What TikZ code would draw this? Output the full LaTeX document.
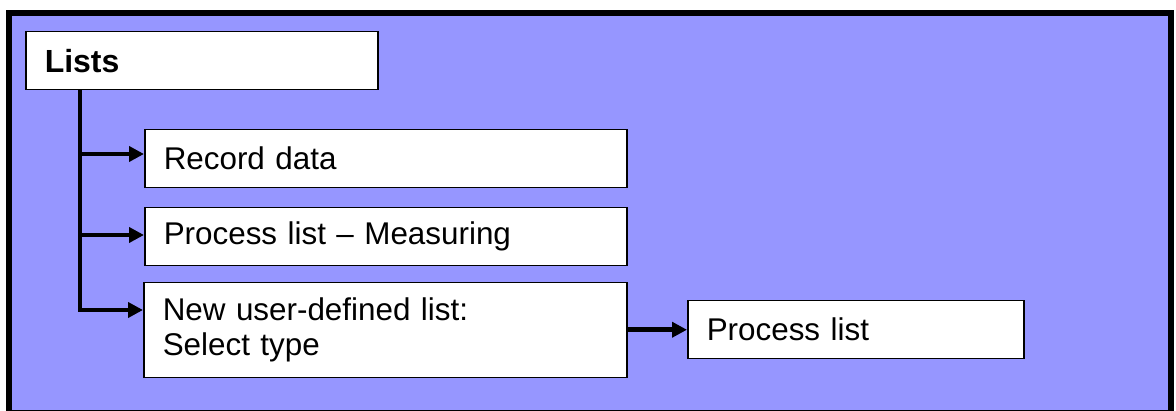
\documentclass[tikz,border=0pt]{standalone}
\usepackage{fontspec}
\setmainfont{Liberation Sans}
\usetikzlibrary{arrows.meta}
\definecolor{bgblue}{RGB}{150,150,255}
\begin{document}
\begin{tikzpicture}[x=1pt,y=-1pt,
  box/.style={draw=black, line width=1.5pt, fill=white, anchor=north west,
    inner xsep=19pt, inner ysep=0pt, align=left,
    font=\fontsize{31.4}{35}\selectfont},
  arrowconn/.style={line width=4.5pt, -{Triangle[length=15pt,width=15pt]}},
  frame/.style={line width=6pt, draw=black, fill=bgblue}]
\useasboundingbox (0,0) rectangle (1176,411);
\draw[frame] (9,13) rectangle (1171,413);
\node[box, font=\fontsize{32}{38}\selectfont\bfseries, text width=314pt, minimum height=58pt] (lists) at (25,31) {Lists};
\node[box, text width=444pt, minimum height=58pt] (rec) at (144,129) {Record data};
\node[box, text width=444pt, minimum height=58pt] (meas) at (144,207) {Process list – Measuring};
\node[box, text width=445pt, minimum height=95pt] (newl) at (143,282) {New user-defined list:\\Select type};
\node[box, text width=298pt, minimum height=58pt] (proc) at (687,300) {Process list};
\path (lists.south west) ++(55,0) coordinate (trunk);
\path (rec.north west) ++(0,25) coordinate (recin);
\path (meas.north west) ++(0,28) coordinate (measin);
\path (newl.north west) ++(0,28) coordinate (newlin);
\draw[arrowconn] (trunk) |- (newlin);
\draw[arrowconn] (trunk |- recin) -- (recin);
\draw[arrowconn] (trunk |- measin) -- (measin);
\draw[arrowconn] (newl.east |- proc.west) -- (proc.west);
\end{tikzpicture}
\end{document}
